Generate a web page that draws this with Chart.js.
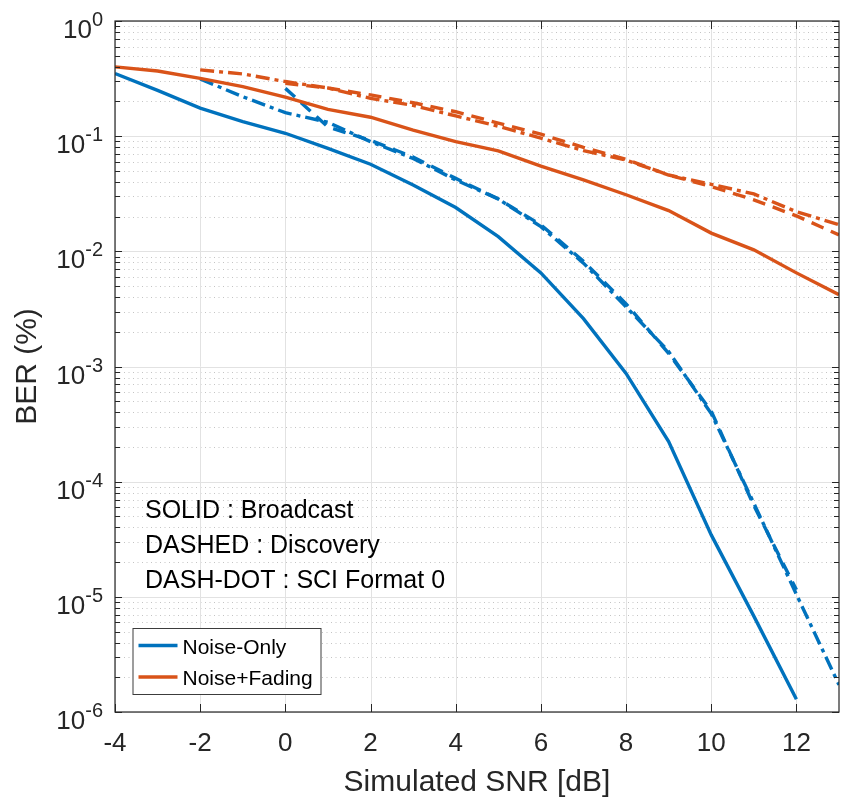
<!DOCTYPE html>
<html>
<head>
<meta charset="utf-8">
<script src="https://cdn.jsdelivr.net/npm/chart.js@4.4.1/dist/chart.umd.min.js"></script>
<style>
html,body{margin:0;padding:0;background:#ffffff;}
#wrap{width:841px;height:804px;position:relative;}
</style>
</head>
<body>
<div id="wrap"><canvas id="c" width="841" height="804"></canvas></div>
<script>
// ---------------- data ----------------
const snrFull      = [-4,-3,-2,-1,0,1,2,3,4,5,6,7,8,9,10,11,12,13];
const snrToTwelve  = [-4,-3,-2,-1,0,1,2,3,4,5,6,7,8,9,10,11,12];
const snrFromMinus2 = [-2,-1,0,1,2,3,4,5,6,7,8,9,10,11,12,13];
const snrFromZeroTo12 = [0,1,2,3,4,5,6,7,8,9,10,11,12];
const snrFromZero  = [0,1,2,3,4,5,6,7,8,9,10,11,12,13];

// Noise-Only (blue)
const noiseOnlyBroadcast = [0.35,0.25,0.175,0.134,0.106,0.0785,0.057,0.0377,0.024,0.0134,0.0065,0.0026,8.7e-4,2.23e-4,3.45e-5,6.8e-6,1.29e-6];
const noiseOnlySci       = [0.314,0.22,0.16,0.132,0.0896,0.064,0.0417,0.0285,0.0164,0.0079,0.0033,0.00135,3.9e-4,6.5e-5,1.05e-5,1.72e-6];
const noiseOnlyDiscovery = [0.26,0.12,0.092,0.066,0.043,0.0285,0.017,0.0082,0.0035,0.0013,4.1e-4,6.2e-5,1.15e-5];

// Noise+Fading (red)
const fadingBroadcast = [0.40,0.368,0.318,0.269,0.218,0.171,0.146,0.113,0.0896,0.0744,0.055,0.0417,0.031,0.0226,0.0144,0.0103,0.0065,0.0042];
const fadingSci       = [0.376,0.347,0.298,0.262,0.213,0.185,0.15,0.122,0.096,0.075,0.062,0.046,0.0382,0.0315,0.0221,0.017];
const fadingDiscovery = [0.288,0.262,0.228,0.195,0.163,0.13,0.104,0.08,0.063,0.046,0.0365,0.028,0.0203,0.0139];

// axes
const xTicks = [-4,-2,0,2,4,6,8,10,12];
const yTickExponents = [0,-1,-2,-3,-4,-5,-6];
const yMinorMultipliers = [2,3,4,5,6,7,8,9];

// text
const xTitle = 'Simulated SNR [dB]';
const yTitle = 'BER (%)';
const annotationLines = ['SOLID : Broadcast','DASHED : Discovery','DASH-DOT : SCI Format 0'];
const legendLabels = ['Noise-Only','Noise+Fading'];

// ---------------- style ----------------
const FONT = '"Liberation Sans", Arial, Helvetica, sans-serif';
const AXIS_COLOR = '#262626';
const BLUE = '#0072BD';
const RED = '#D95319';
const DASHED = [13, 8];
const DASHDOT = [14, 5, 4, 5];

function pts(xs, ys){ return ys.map((v,i)=>({x:xs[i], y:v})); }
function ds(label, xs, ys, color, dash){
  return {label, data:pts(xs,ys), borderColor:color, backgroundColor:color,
          borderWidth:3.4, borderDash:dash, pointRadius:0, tension:0, fill:false};
}

const datasets = [
  ds('Noise-Only (Broadcast)', snrToTwelve, noiseOnlyBroadcast, BLUE, []),
  ds('Noise+Fading (Broadcast)', snrFull, fadingBroadcast, RED, []),
  ds('Noise-Only (Discovery)', snrFromZeroTo12, noiseOnlyDiscovery, BLUE, DASHED),
  ds('Noise-Only (SCI Format 0)', snrFromMinus2, noiseOnlySci, BLUE, DASHDOT),
  ds('Noise+Fading (Discovery)', snrFromZero, fadingDiscovery, RED, DASHED),
  ds('Noise+Fading (SCI Format 0)', snrFromMinus2, fadingSci, RED, DASHDOT),
];

const berPlugin = {
  id:'berPlugin',
  beforeDatasetsDraw(chart){
    const {ctx, chartArea:a, scales:{x,y}} = chart;
    ctx.save();
    ctx.lineWidth = 1;
    // minor dotted grid (log minors)
    ctx.strokeStyle = '#c4c4c4';
    ctx.setLineDash([1,3.5]);
    for (const e of yTickExponents){
      if (e === 0) continue;
      for (const m of yMinorMultipliers){
        const py = Math.round(y.getPixelForValue(m*Math.pow(10,e))) + 0.5;
        ctx.beginPath(); ctx.moveTo(a.left, py); ctx.lineTo(a.right, py); ctx.stroke();
      }
    }
    ctx.setLineDash([]);
    // major grid
    ctx.strokeStyle = '#e2e2e2';
    for (const e of yTickExponents){
      const py = Math.round(y.getPixelForValue(Math.pow(10,e))) + 0.5;
      ctx.beginPath(); ctx.moveTo(a.left, py); ctx.lineTo(a.right, py); ctx.stroke();
    }
    for (const v of xTicks){
      const px = Math.round(x.getPixelForValue(v)) + 0.5;
      ctx.beginPath(); ctx.moveTo(px, a.top); ctx.lineTo(px, a.bottom); ctx.stroke();
    }
    ctx.restore();
  },
  afterDatasetsDraw(chart){
    const {ctx, chartArea:a, scales:{x,y}} = chart;
    ctx.save();
    ctx.strokeStyle = AXIS_COLOR;
    ctx.lineWidth = 1.2;
    ctx.setLineDash([]);
    ctx.strokeRect(a.left, a.top, a.right-a.left, a.bottom-a.top);
    ctx.lineWidth = 1;
    // x ticks (bottom & top, inward)
    for (const v of xTicks){
      const px = Math.round(x.getPixelForValue(v)) + 0.5;
      ctx.beginPath();
      ctx.moveTo(px, a.bottom); ctx.lineTo(px, a.bottom-8);
      ctx.moveTo(px, a.top); ctx.lineTo(px, a.top+8);
      ctx.stroke();
    }
    // y ticks (left & right, inward)
    for (const e of yTickExponents){
      const vals = [[Math.pow(10,e), 7]];
      if (e !== 0) for (const m of yMinorMultipliers) vals.push([m*Math.pow(10,e), 5]);
      for (const [v,len] of vals){
        const py = Math.round(y.getPixelForValue(v)) + 0.5;
        ctx.beginPath();
        ctx.moveTo(a.left, py); ctx.lineTo(a.left+len, py);
        ctx.moveTo(a.right, py); ctx.lineTo(a.right-len, py);
        ctx.stroke();
      }
    }
    // y tick labels with superscript exponents
    ctx.fillStyle = AXIS_COLOR;
    ctx.textAlign = 'left';
    ctx.textBaseline = 'alphabetic';
    const right = a.left - 12;
    for (const e of yTickExponents){
      const py = y.getPixelForValue(Math.pow(10,e));
      const base = '10', exp = String(e);
      ctx.font = `26px ${FONT}`; const wb = ctx.measureText(base).width;
      ctx.font = `20px ${FONT}`; const we = ctx.measureText(exp).width;
      ctx.font = `26px ${FONT}`; ctx.fillText(base, right - we - wb, py + 17);
      ctx.font = `20px ${FONT}`; ctx.fillText(exp, right - we, py + 5);
    }
    ctx.restore();
  },
  afterDraw(chart){
    const {ctx, chartArea:a} = chart;
    ctx.save();
    // annotation text
    ctx.fillStyle = '#000000';
    ctx.font = `25px ${FONT}`;
    ctx.textAlign = 'left';
    ctx.textBaseline = 'alphabetic';
    annotationLines.forEach((t,i)=>{
      ctx.fillText(t, a.left + 30, a.top + 497 + i*35);
    });
    // legend box
    const lx = a.left + 17.5, ly = a.top + 607, lw = 188, lh = 66;
    ctx.fillStyle = '#ffffff';
    ctx.fillRect(lx, ly, lw, lh);
    ctx.strokeStyle = '#3c3c3c';
    ctx.lineWidth = 1;
    ctx.strokeRect(lx+0.5, ly+0.5, lw, lh);
    const legendColors = [BLUE, RED];
    ctx.font = `21px ${FONT}`;
    ctx.fillStyle = '#000000';
    legendLabels.forEach((t,i)=>{
      const cy = ly + 17.5 + i*31.5;
      ctx.strokeStyle = legendColors[i];
      ctx.lineWidth = 3.4;
      ctx.beginPath(); ctx.moveTo(lx+6, cy); ctx.lineTo(lx+45, cy); ctx.stroke();
      ctx.fillText(t, lx+50, cy + 8.3);
    });
    ctx.restore();
  }
};

new Chart(document.getElementById('c'), {
  type:'line',
  data:{datasets},
  options:{
    responsive:false,
    animation:false,
    devicePixelRatio:1,
    layout:{padding:{top:21,right:2,left:0,bottom:0}},
    plugins:{legend:{display:false}, tooltip:{enabled:false}},
    scales:{
      x:{
        type:'linear', min:-4, max:13,
        afterBuildTicks:s=>{ s.ticks = xTicks.map(v=>({value:v})); },
        afterFit:s=>{ s.height = 92; },
        grid:{display:false, drawTicks:false},
        border:{display:false},
        ticks:{font:{family:FONT,size:26}, color:AXIS_COLOR, padding:16, maxRotation:0, autoSkip:false},
        title:{display:true, text:xTitle, font:{family:FONT,size:30}, color:AXIS_COLOR, padding:{top:0,bottom:3}}
      },
      y:{
        type:'logarithmic', min:1e-6, max:1,
        afterBuildTicks:s=>{ s.ticks = yTickExponents.map(e=>({value:Math.pow(10,e)})); },
        afterFit:s=>{ s.width = 115; },
        grid:{display:false, drawTicks:false},
        border:{display:false},
        ticks:{display:false},
        title:{display:true, text:yTitle, font:{family:FONT,size:30}, color:AXIS_COLOR, padding:{top:10,bottom:0}}
      }
    }
  },
  plugins:[berPlugin]
});
</script>
</body>
</html>
